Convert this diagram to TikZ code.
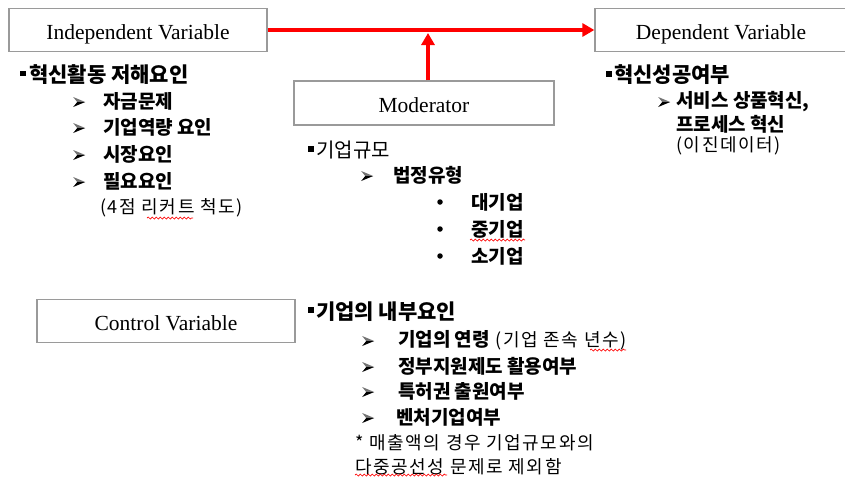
\documentclass[tikz,border=0pt]{standalone}
\usepackage{fontspec}
\setmainfont{Liberation Serif}
\newfontfamily\kr{Noto Sans CJK KR}
\newfontfamily\krsp{Noto Sans CJK KR}[LetterSpace=9]
\usetikzlibrary{arrows.meta,decorations.pathmorphing}
\definecolor{boxgray}{HTML}{9A9A9A}
\definecolor{arrred}{HTML}{FF0000}
\tikzset{
  varbox/.style={draw=boxgray, line width=1.3pt, fill=white, minimum height=43pt, font=\fontsize{21.5}{25}\selectfont, inner sep=0pt, text height=22pt, text depth=4pt},
  redarr/.style={draw=arrred, line width=3.2pt, -{Triangle[length=12pt,width=13pt]}},
  txt/.style={anchor=west, inner sep=0pt, font=\krsp\fontsize{18}{21}\selectfont},
  btxt/.style={anchor=west, inner sep=0pt, font=\kr\bfseries\fontsize{19}{22}\selectfont},
  head/.style={anchor=west, inner sep=0pt, font=\kr\bfseries\fontsize{21}{24}\selectfont},
  arrmark/.style={anchor=west, inner sep=0pt, minimum width=12pt, minimum height=10pt,
    path picture={
      \fill[black!55] (path picture bounding box.north west) -- (path picture bounding box.east)
        -- ([xshift=4pt]path picture bounding box.west) -- cycle;
      \fill[black] ([xshift=4pt]path picture bounding box.west) -- (path picture bounding box.east)
        -- (path picture bounding box.south west) -- cycle;
    }},
  dotmark/.style={circle, fill=black, inner sep=0pt, minimum size=5.5pt},
  sqmark/.style={rectangle, fill=black, inner sep=0pt, minimum width=5.5pt, minimum height=5.5pt},
  wavy/.style={draw=red, line width=0.7pt, decorate, decoration={snake, amplitude=1pt, segment length=4pt}}
}
\begin{document}
\begin{tikzpicture}[x=1pt,y=-1pt]
\clip (0,0) rectangle (845,477);
\fill[white] (0,0) rectangle (845,477);
% boxes
\node[varbox, minimum width=258pt] (iv) at (138,30) {Independent Variable};
\node[varbox, minimum width=252pt] (dv) at (721,30) {Dependent Variable};
\node[varbox, minimum width=260pt, minimum height=44pt] (mod) at (424,103) {Moderator};
\node[varbox, minimum width=258pt] (cv) at (166,321) {Control Variable};
% connectors
\draw[redarr] (iv.east) -- (dv.west);
\coordinate (junc) at ([xshift=4pt]mod.north |- iv.east);
\draw[redarr] ([xshift=4pt]mod.north) -- ([yshift=-3pt]junc);
% independent variable list
\node[sqmark] (isq) at (23,73.5) {};
\node[head] (ih) at (29,75) {혁신활동 저해요인};
\node[arrmark] (ia1) at (73,102) {};
\node[btxt] (i1) at (103,101) {자금문제};
\node[arrmark] (ia2) at (73,128) {};
\node[btxt] (i2) at (103,127) {기업역량 요인};
\node[arrmark] (ia3) at (73,155) {};
\node[btxt] (i3) at (103,154) {시장요인};
\node[arrmark] (ia4) at (73,182) {};
\node[btxt] (i4) at (103,181) {필요요인};
\node[txt] (in) at (100,208) {(4점 리커트 척도)};
% moderator list
\node[sqmark] (msq) at (311,149) {};
\node[anchor=west, inner sep=0pt, font=\kr\fontsize{20}{23}\selectfont] (mh) at (316,150) {기업규모};
\node[arrmark] (ma1) at (361,176) {};
\node[btxt] (m1) at (393,175) {법정유형};
\node[dotmark] (md1) at (440,202) {};
\node[btxt] (m2) at (471,202) {대기업};
\node[dotmark] (md2) at (440,229) {};
\node[btxt] (m3) at (471,229) {중기업};
\node[dotmark] (md3) at (440,256) {};
\node[btxt] (m4) at (471,256) {소기업};
% dependent list
\node[sqmark] (dsq) at (609,74) {};
\node[head] (dh) at (614,75) {혁신성공여부};
\node[arrmark] (da1) at (658,102) {};
\node[btxt] (d1) at (676,102) {서비스 상품혁신,};
\node[btxt] (d2) at (676,124) {프로세스 혁신};
\node[txt] (d3) at (676,146) {(이진데이터)};
% control list
\node[sqmark] (csq) at (311,310) {};
\node[head] (ch) at (316,312) {기업의 내부요인};
\node[arrmark] (ca1) at (362,341) {};
\node[txt] (c1) at (398,340) {{\kr\bfseries\fontsize{19}{22}\selectfont 기업의 연령} (기업 존속 년수)};
\node[arrmark] (ca2) at (362,367) {};
\node[btxt] (c2) at (398,366) {정부지원제도 활용여부};
\node[arrmark] (ca3) at (362,392) {};
\node[btxt] (c3) at (398,391) {특허권 출원여부};
\node[arrmark] (ca4) at (362,418) {};
\node[btxt] (c4) at (396,417) {벤처기업여부};
\node[txt] (cn1) at (355,443) {* 매출액의 경우 기업규모와의};
\node[txt] (cn2) at (355,467) {다중공선성 문제로 제외함};
% spell-check wavy underlines
\coordinate (w1a) at (147,218); \coordinate (w1b) at (193,218);
\coordinate (w2a) at (470,240); \coordinate (w2b) at (525,240);
\coordinate (w3a) at (590,350); \coordinate (w3b) at (626,350);
\coordinate (w4a) at (355,475); \coordinate (w4b) at (447,475);
\draw[wavy] (w1a) -- (w1b);
\draw[wavy] (w2a) -- (w2b);
\draw[wavy] (w3a) -- (w3b);
\draw[wavy] (w4a) -- (w4b);
\end{tikzpicture}
\end{document}
